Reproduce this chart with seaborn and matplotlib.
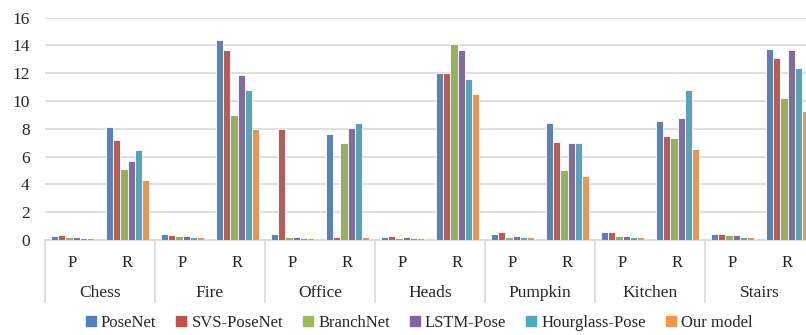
import numpy as np
import pandas as pd
import seaborn as sns
import matplotlib.pyplot as plt
import matplotlib.transforms as mtransforms

scenes = ["Chess", "Fire", "Office", "Heads", "Pumpkin", "Kitchen", "Stairs"]
metrics = ["P", "R"]
models = ["PoseNet", "SVS-PoseNet", "BranchNet", "LSTM-Pose", "Hourglass-Pose", "Our model"]
colors = ["#4F81BD", "#C0504D", "#9BBB59", "#8064A2", "#4BACC6", "#F79646"]

# values per model, order: Chess P, Chess R, Fire P, Fire R, ...
posenet = [0.30, 8.10, 0.42, 14.40, 0.43, 7.65, 0.25, 12.00, 0.40, 8.40, 0.55, 8.60, 0.42, 13.75]
svs_posenet = [0.35, 7.20, 0.38, 13.70, 8.00, 0.25, 0.27, 12.00, 0.55, 7.05, 0.55, 7.50, 0.45, 13.10]
branchnet = [0.18, 5.10, 0.30, 9.00, 0.25, 7.00, 0.17, 14.10, 0.25, 5.05, 0.30, 7.35, 0.35, 10.20]
lstm_pose = [0.22, 5.70, 0.28, 11.90, 0.25, 8.05, 0.18, 13.70, 0.28, 7.00, 0.32, 8.80, 0.35, 13.70]
hourglass = [0.14, 6.50, 0.22, 10.80, 0.17, 8.45, 0.15, 11.60, 0.20, 7.00, 0.22, 10.80, 0.25, 12.40]
our_model = [0.12, 4.30, 0.18, 8.00, 0.12, 0.20, 0.12, 10.50, 0.18, 4.60, 0.20, 6.55, 0.18, 9.30]

series = [posenet, svs_posenet, branchnet, lstm_pose, hourglass, our_model]
cats = [f"{s}-{m}" for s in scenes for m in metrics]

rows = []
for name, vals in zip(models, series):
    for c, v in zip(cats, vals):
        rows.append({"cat": c, "model": name, "value": v})
df = pd.DataFrame(rows)

sns.set_style("white")
serif = "Liberation Serif"
fig = plt.figure(figsize=(8.06, 3.35), dpi=100)
ax = fig.add_axes([45 / 806, 1 - 240 / 335, 770 / 806, 222.3 / 335])

sns.barplot(data=df, x="cat", y="value", hue="model", order=cats, hue_order=models,
            palette=colors, width=0.78, edgecolor="white", linewidth=0.6,
            errorbar=None, ax=ax, legend=False, zorder=3)

ax.set_ylim(0, 16)
ax.set_xlim(-0.5, len(cats) - 0.5)
ax.set_yticks(np.arange(0, 17, 2))
ax.yaxis.grid(True, color="#d9d9d9", linewidth=1.2, zorder=0)
ax.set_axisbelow(True)
ax.tick_params(axis="y", length=0, labelsize=12.5, colors="#262626", pad=11)
for lab in ax.get_yticklabels():
    lab.set_family(serif)
ax.set_xticks([])
ax.set_xlabel("")
ax.set_ylabel("")
for s in ["left", "top", "right"]:
    ax.spines[s].set_visible(False)
ax.spines["bottom"].set_color("#d9d9d9")
ax.spines["bottom"].set_linewidth(1.2)

trans = mtransforms.blended_transform_factory(ax.transData, ax.transAxes)
for i in range(len(scenes) + 1):
    ax.plot([2 * i - 0.5, 2 * i - 0.5], [0, -0.28], transform=trans, clip_on=False,
            color="#d9d9d9", linewidth=1.2)
for i, s in enumerate(scenes):
    for j, m in enumerate(metrics):
        ax.text(2 * i + j, -0.105, m, transform=trans, ha="center", va="center",
                fontsize=12, family=serif, color="#262626")
    ax.text(2 * i + 0.5, -0.24, s, transform=trans, ha="center", va="center",
            fontsize=12.5, family=serif, color="#262626")

handles = [plt.Rectangle((0, 0), 1, 1, color=c) for c in colors]
fig.legend(handles, models, loc="center", bbox_to_anchor=(0.52, 0.036), ncol=6,
           frameon=False, handlelength=0.6, handleheight=0.6, handletextpad=0.3,
           columnspacing=1.2, prop={"family": serif, "size": 12})

fig.savefig("out.png", dpi=100)
